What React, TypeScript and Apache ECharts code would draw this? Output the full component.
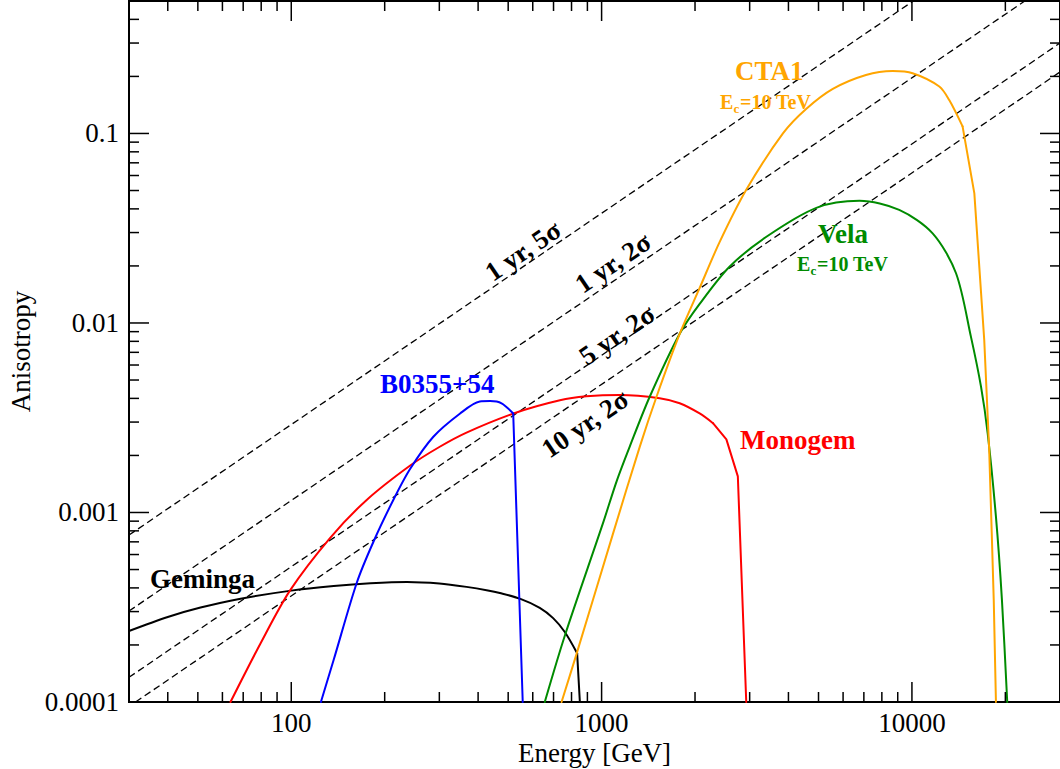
import { useEffect, useRef } from "react";
import * as echarts from "echarts";

const X_MIN = 30;
const X_MAX = 30000;
const Y_MIN = 0.0001;
const Y_MAX = 0.5;

const xTickValues = [100, 1000, 10000];
const xTickLabels = ["100", "1000", "10000"];
const xMinorTicks = [40, 50, 60, 70, 80, 90, 200, 300, 400, 500, 600, 700, 800, 900, 2000, 3000, 4000, 5000, 6000, 7000, 8000, 9000, 20000];
const yTickValues = [0.0001, 0.001, 0.01, 0.1];
const yTickLabels = ["0.0001", "0.001", "0.01", "0.1"];
const yMinorTicks = [0.0002, 0.0003, 0.0004, 0.0005, 0.0006, 0.0007, 0.0008, 0.0009, 0.002, 0.003, 0.004, 0.005, 0.006, 0.007, 0.008, 0.009, 0.02, 0.03, 0.04, 0.05, 0.06, 0.07, 0.08, 0.09, 0.2, 0.3, 0.4];

// Sensitivity lines (straight in log-log), endpoints
const oneYr5Sigma = [[30, 7.6e-4], [10100, 0.5]];
const oneYr2Sigma = [[30, 3.02e-4], [23100, 0.5]];
const fiveYr2Sigma = [[30, 1.35e-4], [30000, 0.3]];
const tenYr2Sigma = [[31.5, 1.0e-4], [30000, 0.211]];

// Source curves: smooth body, then the sharp cut-off drop
const gemingaBody = [
  [30, 2.37e-4], [40, 2.81e-4], [51, 3.15e-4], [68, 3.5e-4], [100, 3.87e-4], [137, 4.09e-4],
  [180, 4.23e-4], [236, 4.3e-4], [300, 4.22e-4], [367, 4.05e-4], [430, 3.88e-4], [470, 3.76e-4],
  [545, 3.51e-4], [632, 3.14e-4], [698, 2.77e-4], [762, 2.335e-4], [834, 1.81e-4],
];
const gemingaDrop = [[834, 1.81e-4], [851, 1.0e-4]];

const monogemBody = [
  [63.7, 1.0e-4], [79.5, 2.03e-4], [99, 3.87e-4], [133.5, 7.35e-4], [175, 1.165e-3], [241.7, 1.77e-3],
  [300, 2.216e-3], [367, 2.64e-3], [526, 3.35e-3], [734, 3.91e-3], [893, 4.1e-3], [1144, 4.17e-3],
  [1538, 4.01e-3], [1785, 3.77e-3], [2070, 3.33e-3], [2285, 2.96e-3],
];
const monogemDrop = [[2285, 2.96e-3], [2524, 2.43e-3], [2748, 1.55e-3], [2925, 1.0e-4]];

const b0355Body = [
  [124.6, 1.0e-4], [137, 1.67e-4], [162.6, 4.26e-4], [184, 7.01e-4], [213, 1.16e-3], [241.7, 1.7e-3],
  [287, 2.51e-3], [350, 3.33e-3], [405, 3.85e-3], [437, 3.87e-3], [476, 3.77e-3], [519, 3.33e-3],
];
const b0355Drop = [[519, 3.33e-3], [557, 1.0e-4]];

const vela = [
  [656, 1.0e-4], [762, 2.25e-4], [1011, 8.81e-4], [1117, 1.456e-3], [1233, 2.233e-3], [1429, 4.08e-3],
  [1785, 8.78e-3], [2070, 0.0126], [2583, 0.0198], [3397, 0.0285], [4920, 0.0405], [6775, 0.0441],
  [9100, 0.0395], [11660, 0.0297], [13870, 0.0183], [15490, 8.47e-3], [16700, 4.6e-3], [17540, 2.62e-3],
  [18650, 9.5e-4], [19500, 3.45e-4], [20280, 1.0e-4],
];

const cta1Body = [
  [743, 1.0e-4], [830, 1.79e-4], [1089, 7.76e-4], [1327, 2.22e-3], [1503, 4.08e-3], [1785, 8.75e-3],
  [2070, 0.0153], [2400, 0.0267], [2925, 0.0504], [3840, 0.1], [4560, 0.1345], [5560, 0.1717],
  [7110, 0.2033], [8670, 0.2134], [10050, 0.208], [12250, 0.177], [13190, 0.15], [14560, 0.109],
];
const cta1Drop = [
  [14560, 0.109], [15890, 0.0483], [17100, 8.13e-3], [17740, 2.14e-3], [18080, 7.76e-4], [18350, 3.45e-4], [18650, 1.0e-4],
];

const FONT = '"Liberation Serif", "Times New Roman", Times, serif';
const GREEN = "#008b00";
const ORANGE = "#ffa500";

function labelFor(values: number[], labels: string[], v: number) {
  const i = values.findIndex((t) => Math.abs(Math.log10(t) - Math.log10(v)) < 1e-6);
  return i >= 0 ? labels[i] : "";
}

function xTickSeries(values: number[], len: number) {
  return {
    type: "custom",
    silent: true,
    z: 10,
    data: values.map((v) => [v, Y_MIN]),
    renderItem: (_p: any, api: any) => {
      const v = api.value(0);
      const b = api.coord([v, Y_MIN]);
      const t = api.coord([v, Y_MAX]);
      return {
        type: "group",
        children: [
          { type: "line", shape: { x1: b[0], y1: b[1], x2: b[0], y2: b[1] - len }, style: { stroke: "#000", lineWidth: 1.5 } },
          { type: "line", shape: { x1: t[0], y1: t[1], x2: t[0], y2: t[1] + len }, style: { stroke: "#000", lineWidth: 1.5 } },
        ],
      };
    },
  };
}

function yTickSeries(values: number[], len: number) {
  return {
    type: "custom",
    silent: true,
    z: 10,
    data: values.map((v) => [X_MIN, v]),
    renderItem: (_p: any, api: any) => {
      const v = api.value(1);
      const l = api.coord([X_MIN, v]);
      const r = api.coord([X_MAX, v]);
      return {
        type: "group",
        children: [
          { type: "line", shape: { x1: l[0], y1: l[1], x2: l[0] + len, y2: l[1] }, style: { stroke: "#000", lineWidth: 1.5 } },
          { type: "line", shape: { x1: r[0], y1: r[1], x2: r[0] - len, y2: r[1] }, style: { stroke: "#000", lineWidth: 1.5 } },
        ],
      };
    },
  };
}

function curve(name: string, data: number[][], color: string, smooth: number | boolean) {
  return {
    name,
    type: "line",
    data,
    showSymbol: false,
    symbol: "none",
    smooth,
    z: 5,
    lineStyle: { color, width: 2, join: "round", cap: "round" },
  };
}

function dashed(name: string, data: number[][]) {
  return {
    name,
    type: "line",
    data,
    showSymbol: false,
    symbol: "none",
    z: 3,
    lineStyle: { color: "#000", width: 1.3, type: [7, 4] },
  };
}

function txt(text: string, x: number, y: number, size: number, color: string, align = "left", rotation = 0) {
  return {
    type: "text",
    x,
    y,
    rotation,
    z: 20,
    style: {
      text,
      font: `bold ${size}px ${FONT}`,
      fill: color,
      textAlign: align,
      align,
      textVerticalAlign: "middle",
      verticalAlign: "middle",
    },
  };
}

function ecLabel(x: number, y: number, color: string) {
  return {
    type: "group",
    x,
    y,
    z: 20,
    children: [
      txt("E", 0, 0, 20, color),
      txt("c", 13.5, 6, 13, color),
      txt("=10 TeV", 20, 0, 20, color),
    ],
  };
}

const ROT = Math.atan(0.68);
const SM = 0.3;

export default function App() {
  const ref = useRef<HTMLDivElement>(null);
  useEffect(() => {
    if (!ref.current) return;
    const chart = echarts.init(ref.current, null, { renderer: "svg" });
    chart.setOption({
      animation: false,
      backgroundColor: "#fff",
      grid: {
        left: 129,
        right: 0,
        top: 1,
        bottom: 67,
        show: true,
        borderColor: "#000",
        borderWidth: 2,
        containLabel: false,
        outerBoundsMode: "none",
      },
      xAxis: {
        type: "log",
        logBase: 10,
        min: X_MIN,
        max: X_MAX,
        name: "Energy [GeV]",
        nameLocation: "middle",
        nameGap: 37,
        nameMoveOverlap: false,
        nameTextStyle: { fontFamily: FONT, fontSize: 27, color: "#000" },
        axisLine: { show: false },
        axisTick: { show: false },
        splitLine: { show: false },
        minorTick: { show: false },
        axisLabel: {
          margin: 7,
          fontFamily: FONT,
          fontSize: 27,
          color: "#000",
          showMinLabel: false,
          showMaxLabel: false,
          formatter: (v: number) => labelFor(xTickValues, xTickLabels, v),
        },
      },
      yAxis: {
        type: "log",
        logBase: 10,
        min: Y_MIN,
        max: Y_MAX,
        name: "Anisotropy",
        nameLocation: "middle",
        nameGap: 95,
        nameRotate: 90,
        nameMoveOverlap: false,
        nameTextStyle: { fontFamily: FONT, fontSize: 27, color: "#000" },
        axisLine: { show: false },
        axisTick: { show: false },
        splitLine: { show: false },
        minorTick: { show: false },
        axisLabel: {
          margin: 10,
          fontFamily: FONT,
          fontSize: 27,
          color: "#000",
          showMinLabel: true,
          showMaxLabel: false,
          formatter: (v: number) => labelFor(yTickValues, yTickLabels, v),
        },
      },
      series: [
        dashed("1 yr, 5σ", oneYr5Sigma),
        dashed("1 yr, 2σ", oneYr2Sigma),
        dashed("5 yr, 2σ", fiveYr2Sigma),
        dashed("10 yr, 2σ", tenYr2Sigma),
        curve("Geminga", gemingaBody, "#000", SM),
        curve("Geminga cut", gemingaDrop, "#000", false),
        curve("Monogem", monogemBody, "#ff0000", SM),
        curve("Monogem cut", monogemDrop, "#ff0000", false),
        curve("B0355+54", b0355Body, "#0000ff", SM),
        curve("B0355+54 cut", b0355Drop, "#0000ff", false),
        curve("Vela", vela, GREEN, SM),
        curve("CTA1", cta1Body, ORANGE, SM),
        curve("CTA1 cut", cta1Drop, ORANGE, false),
        xTickSeries(xTickValues, 20),
        xTickSeries(xMinorTicks, 10),
        yTickSeries(yTickValues, 20),
        yTickSeries(yMinorTicks, 10),
      ],
      graphic: [
        txt("Geminga", 150, 579, 27, "#000"),
        txt("B0355+54", 380, 384, 27, "#0000ff"),
        txt("Monogem", 740, 440, 27, "#ff0000"),
        txt("CTA1", 735, 71, 27, ORANGE),
        ecLabel(720, 102, ORANGE),
        txt("Vela", 818, 234, 27, GREEN),
        ecLabel(797, 264, GREEN),
        txt("1 yr, 5σ", 523, 251, 27, "#000", "center", ROT),
        txt("1 yr, 2σ", 613, 263, 27, "#000", "center", ROT),
        txt("5 yr, 2σ", 617, 335, 27, "#000", "center", ROT),
        txt("10 yr, 2σ", 585, 424, 27, "#000", "center", ROT),
      ],
    });
    return () => chart.dispose();
  }, []);
  return (
    <div
      ref={ref}
      style={{ position: "fixed", left: 0, top: 0, width: 1060, height: 769, background: "#fff" }}
    />
  );
}
